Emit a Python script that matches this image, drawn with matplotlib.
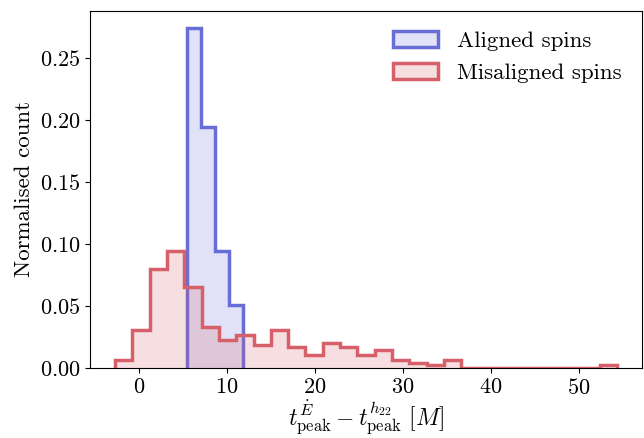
import matplotlib
matplotlib.use("Agg")
import matplotlib.pyplot as plt
import numpy as np

# Fuente tipo LaTeX (Computer Modern)
plt.rcParams["font.family"] = "serif"
plt.rcParams["font.serif"] = ["cmr10"]
plt.rcParams["mathtext.fontset"] = "cm"
plt.rcParams["axes.formatter.use_mathtext"] = True
plt.rcParams["axes.unicode_minus"] = False

# Histograma de espines alineados (densidad normalizada)
bordes_alineados = np.linspace(5.4, 11.8, 5)
alturas_alineados = [0.2744, 0.1945, 0.094, 0.0506]

# Histograma de espines desalineados
bordes_desalineados = np.linspace(-2.72, 54.3, 30)
alturas_desalineados = [
    0.0064, 0.0305, 0.080, 0.094, 0.0654, 0.0327, 0.0225, 0.027, 0.0186,
    0.0305, 0.0171, 0.0105, 0.0204, 0.0166, 0.0105, 0.0142, 0.0062, 0.0043,
    0.0023, 0.0062, 0.0, 0.0, 0.0, 0.0, 0.0, 0.0, 0.0, 0.0, 0.0024,
]

color_azul = (105 / 255, 110 / 255, 215 / 255)
color_rojo = (215 / 255, 95 / 255, 105 / 255)

fig = plt.figure(figsize=(6.44, 4.38), dpi=100)
ax = fig.add_axes([0.1398, 0.1598, 0.857, 0.8158])

ax.stairs(alturas_alineados, bordes_alineados, fill=True,
          facecolor=color_azul + (0.2,), edgecolor=color_azul,
          linewidth=2.5, label="Aligned spins")
ax.stairs(alturas_desalineados, bordes_desalineados, fill=True,
          facecolor=color_rojo + (0.2,), edgecolor=color_rojo,
          linewidth=2.5, label="Misaligned spins")

ax.set_xlim(-5.57, 57.15)
ax.set_ylim(0, 0.2881)
ax.set_xticks([0, 10, 20, 30, 40, 50])
ax.set_yticks([0.0, 0.05, 0.10, 0.15, 0.20, 0.25])
ax.tick_params(labelsize=16)

ax.set_xlabel(r"$t^{\dot{E}}_{\rm peak} - t^{h_{22}}_{\rm peak}\ [M]$",
              fontsize=17, labelpad=1)
ax.set_ylabel("Normalised count", fontsize=16.5)

ax.legend(loc="upper right", frameon=False, fontsize=16.5)

fig.savefig("out.png", dpi=100)
